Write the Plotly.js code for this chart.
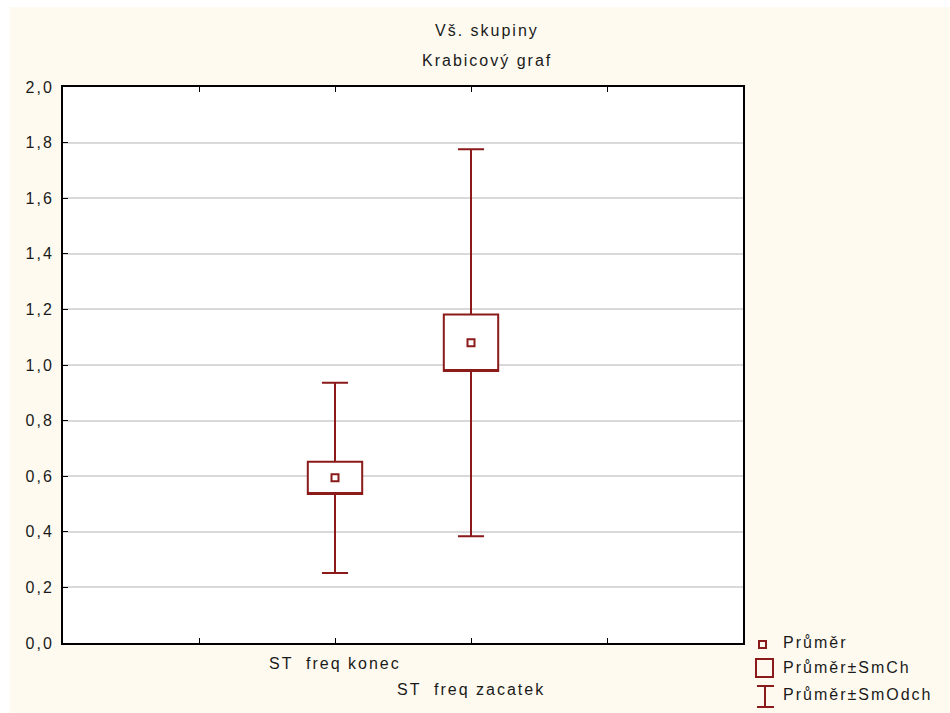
<!DOCTYPE html>
<html>
<head>
<meta charset="utf-8">
<script src="https://cdn.plot.ly/plotly-3.0.1.min.js"></script>
<style>
  html, body { margin: 0; padding: 0; background: #ffffff; }
  #chart { position: absolute; left: 10px; top: 7px; width: 940px; height: 706px; }
  #chart text { letter-spacing: 2px; }
</style>
</head>
<body>
<div id="chart"></div>
<script>
// ---- data ----
const categories = ['ST  freq konec', 'ST  freq zacatek'];
const means = [0.594, 1.080];
const stdErr = [0.058, 0.102];
const stdDev = [0.342, 0.696];
const yTickVals = [0, 0.2, 0.4, 0.6, 0.8, 1.0, 1.2, 1.4, 1.6, 1.8, 2.0];
const legendLabels = ['Průměr', 'Průměr±SmCh', 'Průměr±SmOdch'];
const titleLines = ['Vš. skupiny', 'Krabicový graf'];

// ---- layout helpers (page pixels -> paper coords) ----
const L = 63, R = 743, T = 87, B = 643;
const px = p => (p - L) / (R - L);
const py = p => (B - p) / (B - T);
const red = '#8b1a1a';

const xpos = categories.map((c, i) => i + 2);

const boxTrace = {
  type: 'box',
  x: xpos,
  q1: means.map((m, i) => m - stdErr[i]),
  median: means.map((m, i) => m - stdErr[i]),
  q3: means.map((m, i) => m + stdErr[i]),
  lowerfence: means.map((m, i) => m - stdDev[i]),
  upperfence: means.map((m, i) => m + stdDev[i]),
  width: 0.4,
  whiskerwidth: 0.48,
  line: { color: red, width: 2 },
  fillcolor: '#ffffff',
  boxpoints: false,
  hoverinfo: 'skip',
  showlegend: false
};

const meanTrace = {
  type: 'scatter',
  mode: 'markers',
  x: xpos,
  y: means,
  marker: { symbol: 'square-open', size: 7, color: red, line: { color: red, width: 2 } },
  hoverinfo: 'skip',
  showlegend: false
};

const font = { family: 'Liberation Sans, Arial, sans-serif', size: 16, color: '#1a1a1a' };

const annotations = [];
titleLines.forEach((t, i) => {
  annotations.push({
    text: t, xref: 'paper', yref: 'paper', x: px(487), y: py(31 + i * 29),
    xanchor: 'center', yanchor: 'middle', showarrow: false, font: font
  });
});
categories.forEach((c, i) => {
  annotations.push({
    text: c, xref: 'x', yref: 'paper', x: xpos[i], y: py(663 + i * 26),
    xanchor: 'center', yanchor: 'middle', showarrow: false, font: font
  });
});
const legendY = [642, 667, 694];
legendLabels.forEach((t, i) => {
  // letter-spacing is not included in Plotly's text measurement; offset by half of it
  annotations.push({
    text: t, xref: 'paper', yref: 'paper', x: px(781 + t.length), y: py(legendY[i]),
    xanchor: 'left', yanchor: 'middle', showarrow: false, font: font
  });
});

const shapes = [
  { type: 'rect', xref: 'paper', yref: 'paper', x0: px(759), x1: px(766), y0: py(641), y1: py(648),
    line: { color: red, width: 2 } },
  { type: 'rect', xref: 'paper', yref: 'paper', x0: px(756), x1: px(773), y0: py(659), y1: py(677),
    line: { color: red, width: 2 } },
  { type: 'line', xref: 'paper', yref: 'paper', x0: px(765), x1: px(765), y0: py(686), y1: py(707),
    line: { color: red, width: 2 } },
  { type: 'line', xref: 'paper', yref: 'paper', x0: px(757), x1: px(774), y0: py(686), y1: py(686),
    line: { color: red, width: 2 } },
  { type: 'line', xref: 'paper', yref: 'paper', x0: px(757), x1: px(774), y0: py(707), y1: py(707),
    line: { color: red, width: 2 } }
];

const layout = {
  width: 940, height: 706,
  margin: { l: 53, r: 207, t: 80, b: 70, pad: 0 },
  paper_bgcolor: '#fffaf0',
  plot_bgcolor: '#ffffff',
  separators: ', ',
  showlegend: false,
  font: font,
  xaxis: {
    range: [0, 5],
    tickvals: [1, 2, 3, 4],
    ticktext: ['', '', '', ''],
    ticks: 'inside', ticklen: 5, tickwidth: 1, tickcolor: '#000',
    showgrid: false, zeroline: false,
    showline: true, linecolor: '#000', linewidth: 2, mirror: 'ticks',
    fixedrange: true
  },
  yaxis: {
    range: [0, 2],
    tickvals: yTickVals,
    tickformat: '.1f',
    ticks: 'inside', ticklen: 5, tickwidth: 1, tickcolor: '#000',
    showgrid: true, gridcolor: '#d9d9d9', gridwidth: 2,
    zeroline: false,
    showline: true, linecolor: '#000', linewidth: 2, mirror: true,
    ticklabelstandoff: 4,
    fixedrange: true
  },
  annotations: annotations,
  shapes: shapes
};

Plotly.newPlot('chart', [boxTrace, meanTrace], layout, { displayModeBar: false, staticPlot: true });
</script>
</body>
</html>
